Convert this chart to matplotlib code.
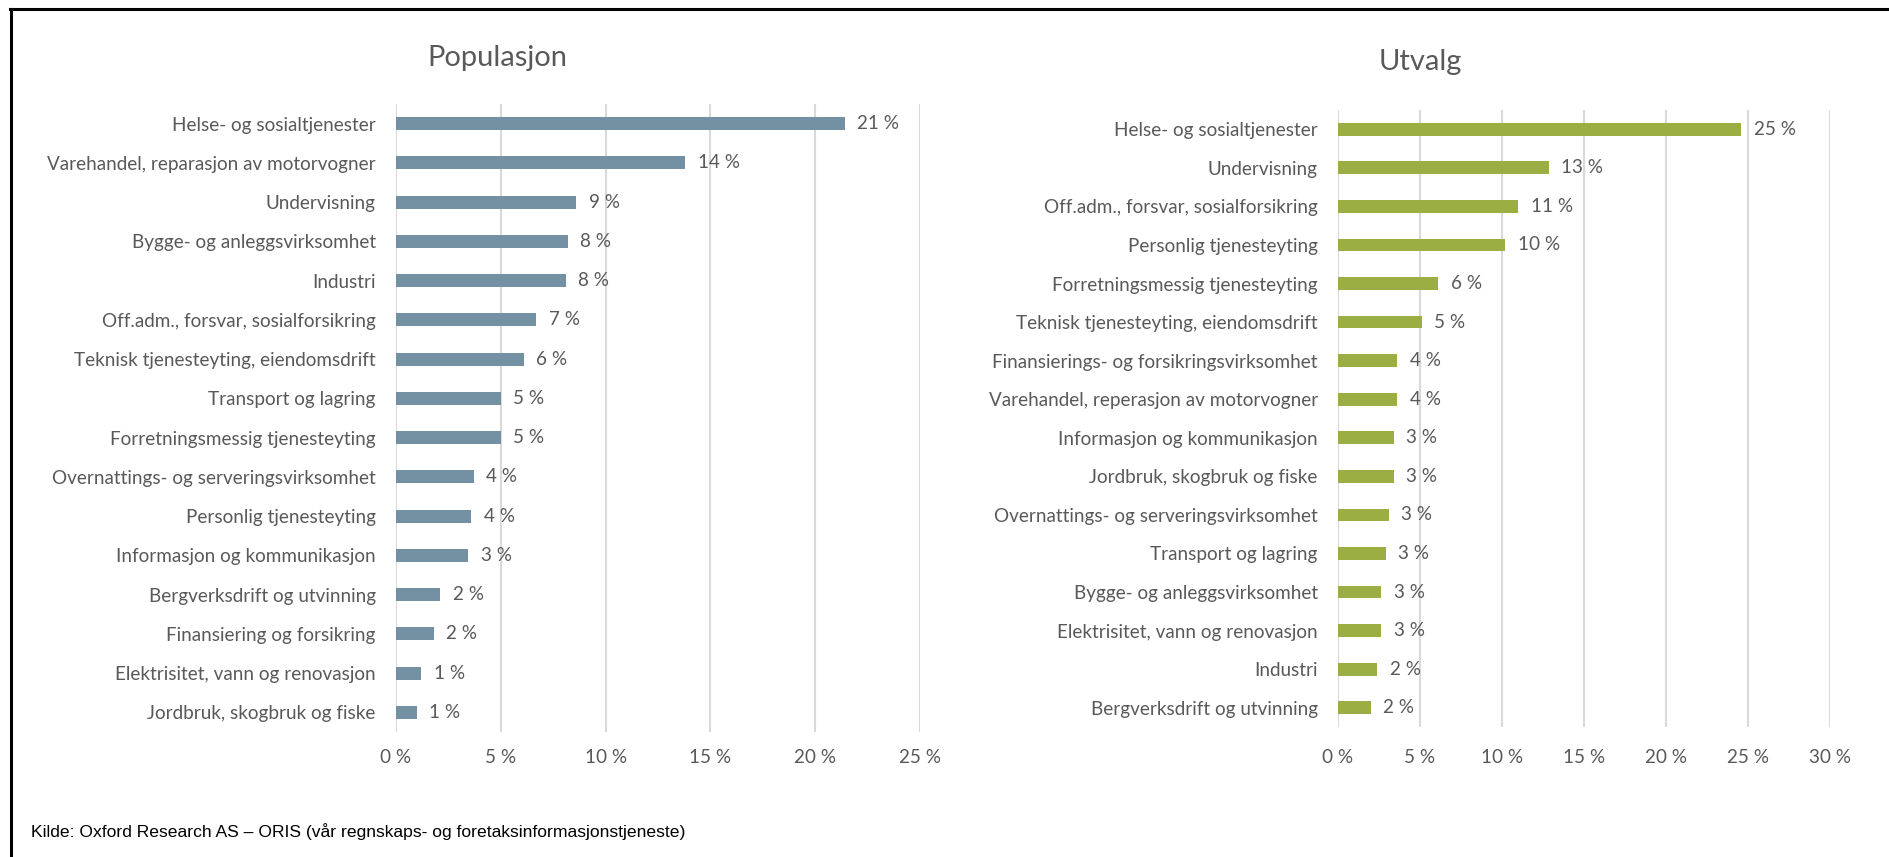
import numpy as np
import matplotlib.pyplot as plt
from matplotlib.lines import Line2D

# Populasjon
pop_labels = [
    "Helse- og sosialtjenester",
    "Varehandel, reparasjon av motorvogner",
    "Undervisning",
    "Bygge- og anleggsvirksomhet",
    "Industri",
    "Off.adm., forsvar, sosialforsikring",
    "Teknisk tjenesteyting, eiendomsdrift",
    "Transport og lagring",
    "Forretningsmessig tjenesteyting",
    "Overnattings- og serveringsvirksomhet",
    "Personlig tjenesteyting",
    "Informasjon og kommunikasjon",
    "Bergverksdrift og utvinning",
    "Finansiering og forsikring",
    "Elektrisitet, vann og renovasjon",
    "Jordbruk, skogbruk og fiske",
]
pop_values = [21.4, 13.8, 8.6, 8.2, 8.1, 6.7, 6.1, 5.0, 5.0, 3.7, 3.6, 3.45, 2.1, 1.8, 1.2, 1.0]

# Utvalg
utv_labels = [
    "Helse- og sosialtjenester",
    "Undervisning",
    "Off.adm., forsvar, sosialforsikring",
    "Personlig tjenesteyting",
    "Forretningsmessig tjenesteyting",
    "Teknisk tjenesteyting, eiendomsdrift",
    "Finansierings- og forsikringsvirksomhet",
    "Varehandel, reperasjon av motorvogner",
    "Informasjon og kommunikasjon",
    "Jordbruk, skogbruk og fiske",
    "Overnattings- og serveringsvirksomhet",
    "Transport og lagring",
    "Bygge- og anleggsvirksomhet",
    "Elektrisitet, vann og renovasjon",
    "Industri",
    "Bergverksdrift og utvinning",
]
utv_values = [24.6, 12.85, 11.0, 10.2, 6.1, 5.1, 3.6, 3.6, 3.4, 3.4, 3.1, 2.9, 2.65, 2.65, 2.4, 2.0]

pop_ticks = [0, 5, 10, 15, 20, 25]
utv_ticks = [0, 5, 10, 15, 20, 25, 30]

TXT = "#595959"
GRID = "#d9d9d9"
FONT = ["Lato", "DejaVu Sans"]
FS = 13.6

fig = plt.figure(figsize=(18.9, 8.57), dpi=100)


def draw(ax, labels, values, ticks, color, tick_pad):
    n = len(values)
    y = np.arange(n)
    ax.barh(y, values, height=0.33, color=color, zorder=3)
    ax.set_ylim(n - 0.5, -0.5)
    ax.set_xlim(ticks[0], ticks[-1])
    ax.set_xticks(ticks)
    ax.set_xticklabels([f"{t} %" for t in ticks], fontsize=FS, color=TXT, family=FONT)
    ax.set_yticks(y)
    ax.set_yticklabels(labels, fontsize=FS, color=TXT, family=FONT)
    ax.tick_params(axis="both", length=0)
    ax.tick_params(axis="x", pad=tick_pad)
    ax.tick_params(axis="y", pad=14.5)
    for t in ticks:
        ax.axvline(t, color=GRID, lw=1.5, zorder=1)
    for s in ax.spines.values():
        s.set_visible(False)
    for yi, v in zip(y, values):
        ax.annotate(f"{v:.0f} %", (v, yi), xytext=(9, 0), textcoords="offset points",
                    va="center", ha="left", fontsize=FS, color=TXT, family=FONT)


ax1 = fig.add_axes([396 / 1890, 1 - 732 / 857, 524 / 1890, 628 / 857])
draw(ax1, pop_labels, pop_values, pop_ticks, "#7391a3", 12.5)

ax2 = fig.add_axes([1338 / 1890, 1 - 727 / 857, 492 / 1890, 617 / 857])
draw(ax2, utv_labels, utv_values, utv_ticks, "#9bae44", 15.5)

fig.text(497 / 1890, 1 - 58 / 857, "Populasjon", ha="center", va="center",
         fontsize=21, color=TXT, family=FONT)
fig.text(1420 / 1890, 1 - 62 / 857, "Utvalg", ha="center", va="center",
         fontsize=21, color=TXT, family=FONT)

fig.text(31 / 1890, 1 - 832 / 857,
         "Kilde: Oxford Research AS \u2013 ORIS (vår regnskaps- og foretaksinformasjonstjeneste)",
         ha="left", va="center", fontsize=12.6, color="black",
         family=["Liberation Sans Narrow", "Liberation Sans", "DejaVu Sans"])

# frame: top and left edges only
fig.add_artist(Line2D([10 / 1890, 1], [1 - 8.5 / 857] * 2, color="black", lw=2.2,
                      transform=fig.transFigure))
fig.add_artist(Line2D([10.5 / 1890] * 2, [0, 1 - 8.5 / 857], color="black", lw=2.2,
                      transform=fig.transFigure))

fig.savefig("out.png", dpi=100)
